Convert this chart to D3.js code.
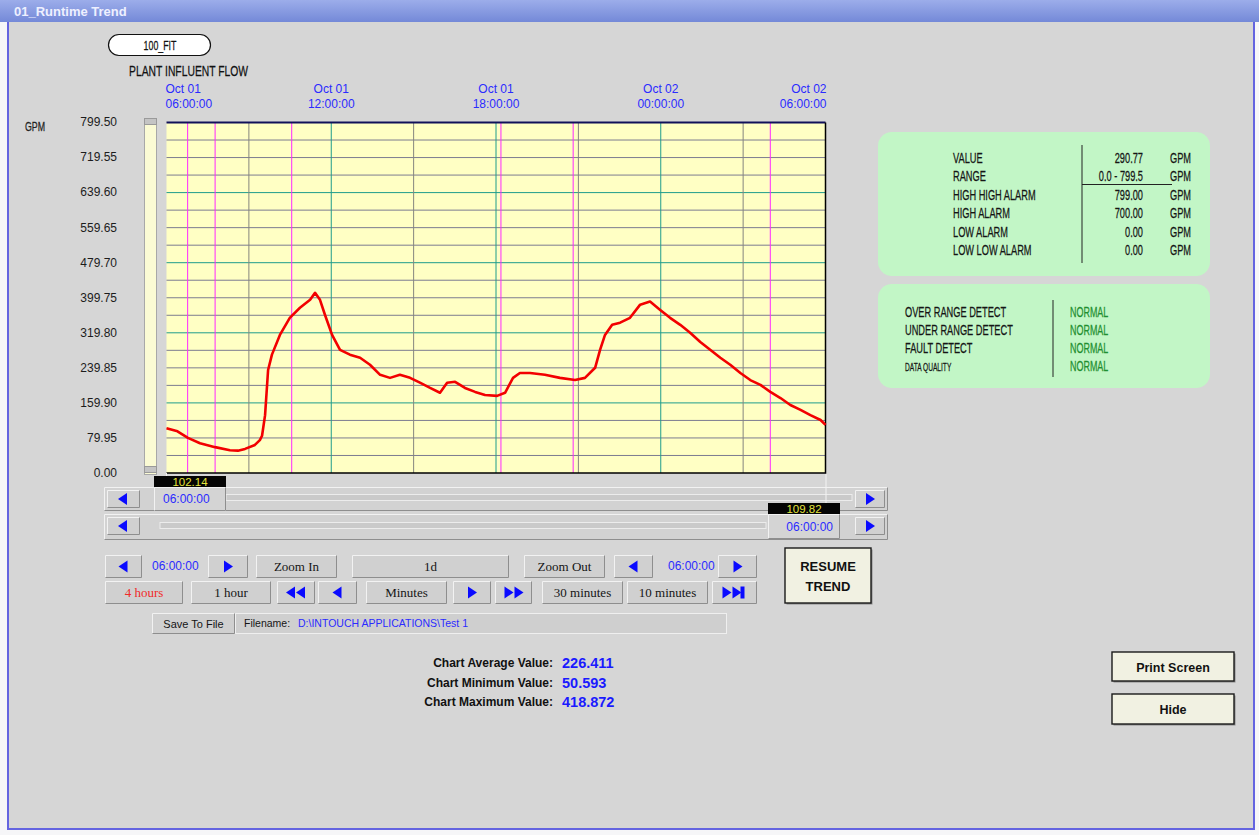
<!DOCTYPE html>
<html>
<head>
<meta charset="utf-8">
<script src="https://cdn.jsdelivr.net/npm/d3@7"></script>
<style>
  body { margin: 0; background: #ffffff; }
</style>
</head>
<body>
<div id="trend"></div>
<script>
var startTime = new Date(2009, 9, 1, 6, 0, 0);   // Oct 01 06:00:00
var spanHours = 24;
var hoursFromStart = [0.00, 0.40, 0.78, 1.22, 1.77, 2.31, 2.60, 2.86, 3.22, 3.40, 3.48, 3.59, 3.70, 3.84, 4.13,
  4.49, 4.86, 5.23, 5.41, 5.59, 5.77, 6.03, 6.32, 6.68, 7.05, 7.41, 7.78, 8.14, 8.50, 8.87, 9.23, 9.60, 9.96,
  10.22, 10.51, 10.87, 11.24, 11.60, 12.04, 12.33, 12.62, 12.87, 13.24, 13.78, 14.33, 14.88, 15.24, 15.61,
  15.79, 15.97, 16.23, 16.52, 16.88, 17.25, 17.61, 17.98, 18.34, 18.71, 19.07, 19.44, 19.80, 20.17, 20.53,
  20.90, 21.26, 21.63, 21.99, 22.36, 22.72, 23.09, 23.45, 23.82, 24.00];
var flowGpm = [102.14, 95, 80, 68, 59, 52, 51, 55, 64, 75, 85, 132, 235, 270, 315,
  354, 377, 395, 411, 395, 361, 315, 281, 270, 263, 247, 224, 217, 224, 217, 206, 194, 183,
  206, 208, 194, 185, 178, 176, 183, 217, 228, 228, 224, 217, 212, 217, 240,
  281, 315, 338, 343, 354, 384, 391, 372, 354, 338, 320, 299, 281, 263, 247,
  228, 212, 201, 185, 171, 155, 144, 132, 121, 109.82];

var yDomain = [0, 799.5];
var yTickValues = [0, 79.95, 159.9, 239.85, 319.8, 399.75, 479.7, 559.65, 639.6, 719.55, 799.5];
var yGridValues = [0, 39.975, 79.95, 119.925, 159.9, 199.875, 239.85, 279.825, 319.8, 359.775, 399.75,
  439.725, 479.7, 519.675, 559.65, 599.625, 639.6, 679.575, 719.55, 759.525];
var yMajorGrid = [159.9, 319.8, 479.7, 639.6];
var timeLabelHours = [0, 6, 12, 18, 24];
var majorGridHours = [6, 12, 18];
var minorGridHours = [3, 9, 15, 21];
var markerHours = [0.77, 1.77, 4.56, 12.18, 14.81, 21.99];

var chartStatLabels = ["Chart Average Value:", "Chart Minimum Value:", "Chart Maximum Value:"];
var chartStatValues = ["226.411", "50.593", "418.872"];
var alarmLabels = ["VALUE", "RANGE", "HIGH HIGH ALARM", "HIGH ALARM", "LOW ALARM", "LOW LOW ALARM"];
var alarmValues = ["290.77", "0.0 -  799.5", "799.00", "700.00", "0.00", "0.00"];
var statusLabels = ["OVER RANGE DETECT", "UNDER RANGE DETECT", "FAULT DETECT", "DATA QUALITY"];
var statusValues = ["NORMAL", "NORMAL", "NORMAL", "NORMAL"];

var width = 1259;
var height = 835;
var plot = { left: 166.5, right: 825.5, top: 122.5, bottom: 473 };
var blue = "#2b2bff";

var svg = d3.select("#trend").append("svg")
  .attr("width", width)
  .attr("height", height)
  .style("font-family", "Arial, 'Liberation Sans', sans-serif");

function hoursToDate(h) {
  return new Date(startTime.getTime() + h * 3600 * 1000);
}

var x = d3.scaleTime()
  .domain([startTime, hoursToDate(spanHours)])
  .range([plot.left, plot.right]);
var y = d3.scaleLinear()
  .domain(yDomain)
  .range([plot.bottom, plot.top]);

// narrow font look (Arial Narrow style)
function narrow(g, px, py, str, size, anchor, fill, sx) {
  return g.append("text")
    .attr("transform", "translate(" + px + "," + py + ") scale(" + (sx || 0.72) + ",1)")
    .attr("text-anchor", anchor || "start")
    .attr("font-size", size)
    .attr("fill", fill || "#151515")
    .attr("stroke", fill || "#151515")
    .attr("stroke-width", 0.25)
    .text(str);
}

function bevel(g, bx, by, w, h, fill) {
  var b = g.append("g").attr("transform", "translate(" + bx + "," + by + ")");
  b.append("rect").attr("width", w).attr("height", h).attr("fill", fill || "#d0d0d0");
  b.append("path").attr("d", "M0.5," + (h - 0.5) + "V0.5H" + (w - 0.5))
    .attr("fill", "none").attr("stroke", "#f2f2f2");
  b.append("path").attr("d", "M0.5," + (h - 0.5) + "H" + (w - 0.5) + "V0.5")
    .attr("fill", "none").attr("stroke", "#8e8e8e");
  return b;
}

function arrow(g, cx, cy, dir) {
  var d = dir == "left" ? "M" + (cx - 5) + "," + cy + "L" + (cx + 4) + "," + (cy - 6) + "V" + (cy + 6) + "Z"
    : "M" + (cx + 5) + "," + cy + "L" + (cx - 4) + "," + (cy - 6) + "V" + (cy + 6) + "Z";
  g.append("path").attr("d", d).attr("fill", "#0a0aff");
}

// ---- window frame ----
svg.append("rect").attr("width", width).attr("height", height).attr("fill", "#f6f6f8");
svg.append("rect")
  .attr("x", 8).attr("y", 20).attr("width", 1246).attr("height", 809)
  .attr("fill", "#d6d6d6")
  .attr("stroke", "#6464e0").attr("stroke-width", 2);
var grad = svg.append("defs").append("linearGradient")
  .attr("id", "titleGrad").attr("x1", 0).attr("y1", 0).attr("x2", 0).attr("y2", 1);
grad.append("stop").attr("offset", 0).attr("stop-color", "#9cadea");
grad.append("stop").attr("offset", 1).attr("stop-color", "#7489d8");
svg.append("rect").attr("width", width).attr("height", 22).attr("fill", "url(#titleGrad)");
svg.append("text")
  .attr("x", 14).attr("y", 16)
  .attr("font-size", 13).attr("font-weight", "bold")
  .attr("fill", "#eef0ff")
  .text("01_Runtime Trend");

// ---- tag header ----
svg.append("rect")
  .attr("x", 108.5).attr("y", 34.5).attr("width", 102).attr("height", 21).attr("rx", 10.5)
  .attr("fill", "#ffffff").attr("stroke", "#111").attr("stroke-width", 1.2);
narrow(svg, 160, 50, "100_FIT", 13, "middle", "#111", 0.68);
narrow(svg, 129, 75.5, "PLANT INFLUENT FLOW", 15, "start", "#111", 0.69);
narrow(svg, 25, 131, "GPM", 13, "start", "#222", 0.68);

// ---- trend plot ----
svg.append("rect")
  .attr("x", plot.left).attr("y", plot.top)
  .attr("width", plot.right - plot.left).attr("height", plot.bottom - plot.top)
  .attr("fill", "#ffffc4");

var grid = svg.append("g");
grid.selectAll(".hminor").data(yGridValues.filter(v => yMajorGrid.indexOf(v) < 0 && v > 0))
  .enter().append("line")
  .attr("x1", plot.left).attr("x2", plot.right)
  .attr("y1", d => y(d)).attr("y2", d => y(d))
  .attr("stroke", "#7c7c90").attr("stroke-width", 1);
grid.selectAll(".hmajor").data(yMajorGrid)
  .enter().append("line")
  .attr("x1", plot.left).attr("x2", plot.right)
  .attr("y1", d => y(d)).attr("y2", d => y(d))
  .attr("stroke", "#1e9c8c").attr("stroke-width", 1);
grid.selectAll(".vminor").data(minorGridHours)
  .enter().append("line")
  .attr("x1", d => x(hoursToDate(d))).attr("x2", d => x(hoursToDate(d)))
  .attr("y1", plot.top).attr("y2", plot.bottom)
  .attr("stroke", "#85857e").attr("stroke-width", 1);
grid.selectAll(".vmajor").data(majorGridHours)
  .enter().append("line")
  .attr("x1", d => x(hoursToDate(d))).attr("x2", d => x(hoursToDate(d)))
  .attr("y1", plot.top).attr("y2", plot.bottom)
  .attr("stroke", "#1e9c8c").attr("stroke-width", 1);
grid.selectAll(".marker").data(markerHours)
  .enter().append("line")
  .attr("x1", d => x(hoursToDate(d))).attr("x2", d => x(hoursToDate(d)))
  .attr("y1", plot.top).attr("y2", plot.bottom)
  .attr("stroke", "#ff28ff").attr("stroke-width", 1);

// plot border
svg.append("line").attr("x1", plot.left).attr("x2", plot.right).attr("y1", plot.top).attr("y2", plot.top)
  .attr("stroke", "#10105a").attr("stroke-width", 2);
svg.append("path")
  .attr("d", "M" + plot.left + "," + plot.bottom + "H" + plot.right + "V" + plot.top)
  .attr("fill", "none").attr("stroke", "#000").attr("stroke-width", 1.5);

// series
var line = d3.line()
  .x((d, i) => x(hoursToDate(hoursFromStart[i])))
  .y(d => y(d));
svg.append("path")
  .datum(flowGpm)
  .attr("d", line)
  .attr("fill", "none")
  .attr("stroke", "#f20000")
  .attr("stroke-width", 2.6)
  .attr("stroke-linejoin", "round");

// y labels
var yAxis = svg.append("g")
  .attr("transform", "translate(120,0)")
  .call(d3.axisLeft(y).tickValues(yTickValues).tickSize(0).tickPadding(3).tickFormat(d3.format(".2f")));
yAxis.select(".domain").remove();
yAxis.selectAll("text").attr("font-size", 12).attr("font-family", "Arial, 'Liberation Sans', sans-serif")
  .attr("fill", "#1c1c1c").attr("dy", "0.28em");

// time labels
var fmtDay = d3.timeFormat("%b %d");
var fmtTime = d3.timeFormat("%H:%M:%S");
var tl = svg.append("g").selectAll("g").data(timeLabelHours).enter().append("g");
function timeAnchor(d, i) { return i == 0 ? "start" : (i == timeLabelHours.length - 1 ? "end" : "middle"); }
function timeX(d, i) { return x(hoursToDate(d)) + (i == 0 ? -1 : (i == timeLabelHours.length - 1 ? 1 : 0)); }
tl.append("text").attr("x", timeX).attr("y", 93).attr("text-anchor", timeAnchor)
  .attr("font-size", 12).attr("fill", blue).text(d => fmtDay(hoursToDate(d)));
tl.append("text").attr("x", timeX).attr("y", 108).attr("text-anchor", timeAnchor)
  .attr("font-size", 12).attr("fill", blue).text(d => fmtTime(hoursToDate(d)));

// vertical range slider at left of plot
svg.append("rect").attr("x", 144.5).attr("y", 118.5).attr("width", 12).attr("height", 356)
  .attr("fill", "#fbfbd4").attr("stroke", "#a8a8a8");
svg.append("rect").attr("x", 144.5).attr("y", 118.5).attr("width", 12).attr("height", 6)
  .attr("fill", "#c4c4c4").attr("stroke", "#9a9a9a");
svg.append("rect").attr("x", 144.5).attr("y", 466.5).attr("width", 12).attr("height", 6)
  .attr("fill", "#c4c4c4").attr("stroke", "#9a9a9a");

// ---- scroll rows with cursors ----
var fmtVal = d3.format(".2f");
var rows = svg.append("g");
bevel(rows, 104, 487, 784, 24, "#d2d2d2");
bevel(rows, 104, 514, 784, 26, "#d2d2d2");
rows.append("rect").attr("x", 226).attr("y", 494.5).attr("width", 626).attr("height", 6)
  .attr("fill", "#cacaca").attr("stroke", "#ececec");
rows.append("rect").attr("x", 160).attr("y", 522.5).attr("width", 606).attr("height", 6)
  .attr("fill", "#cacaca").attr("stroke", "#ececec");
[[107, 490], [107, 517]].forEach(p => {
  var b = bevel(rows, p[0], p[1], 33, 18);
  arrow(b, 16, 9, "left");
});
[[855, 490], [855, 517]].forEach(p => {
  var b = bevel(rows, p[0], p[1], 30, 18);
  arrow(b, 15, 9, "right");
});
// cursor lines
rows.append("line").attr("x1", x(startTime)).attr("x2", x(startTime)).attr("y1", plot.bottom).attr("y2", 476)
  .attr("stroke", "#f4f4f4");
rows.append("line").attr("x1", x(hoursToDate(spanHours)) + 0.5).attr("x2", x(hoursToDate(spanHours)) + 0.5)
  .attr("y1", plot.bottom + 1).attr("y2", 503).attr("stroke", "#f4f4f4");
// left cursor box
rows.append("rect").attr("x", 154).attr("y", 476).attr("width", 72).attr("height", 11).attr("fill", "#050505");
rows.append("text").attr("x", 190).attr("y", 485.5).attr("text-anchor", "middle").attr("font-size", 11.5)
  .attr("fill", "#e4e43c").text(fmtVal(flowGpm[0]));
bevel(rows, 154, 487, 72, 24, "#d4d4d4");
rows.append("text").attr("x", 163).attr("y", 503).attr("font-size", 12).attr("fill", blue)
  .text(fmtTime(startTime));
// right cursor box
rows.append("rect").attr("x", 768).attr("y", 503).attr("width", 72).attr("height", 11).attr("fill", "#050505");
rows.append("text").attr("x", 804).attr("y", 512.5).attr("text-anchor", "middle").attr("font-size", 11.5)
  .attr("fill", "#e4e43c").text(fmtVal(flowGpm[flowGpm.length - 1]));
bevel(rows, 768, 514, 72, 25, "#d4d4d4");
rows.append("text").attr("x", 833).attr("y", 531).attr("text-anchor", "end").attr("font-size", 12)
  .attr("fill", blue).text(fmtTime(hoursToDate(spanHours)));

// ---- control buttons ----
var ctrl = svg.append("g");
var serif = "'Liberation Serif', 'Times New Roman', serif";
function labelButton(bx, by, w, label, color) {
  var b = bevel(ctrl, bx, by, w, 23);
  b.append("text").attr("x", w / 2).attr("y", 16).attr("text-anchor", "middle")
    .attr("font-family", serif).attr("font-size", 13).attr("fill", color || "#151515").text(label);
  return b;
}
function iconButton(bx, by, w, kind) {
  var b = bevel(ctrl, bx, by, w, 23);
  var c = w / 2;
  if (kind == "left" || kind == "right") arrow(b, c, 11.5, kind);
  if (kind == "dleft") { arrow(b, c - 5, 11.5, "left"); arrow(b, c + 5, 11.5, "left"); }
  if (kind == "dright") { arrow(b, c - 5, 11.5, "right"); arrow(b, c + 5, 11.5, "right"); }
  if (kind == "end") {
    arrow(b, c - 8, 11.5, "right");
    arrow(b, c + 2, 11.5, "right");
    b.append("rect").attr("x", c + 6).attr("y", 5.5).attr("width", 4).attr("height", 12).attr("fill", "#0a0aff");
  }
  return b;
}
iconButton(105, 555, 37, "left");
ctrl.append("text").attr("x", 152).attr("y", 570).attr("font-size", 12).attr("fill", blue).text(fmtTime(startTime));
iconButton(208, 555, 40, "right");
labelButton(256, 555, 81, "Zoom In");
labelButton(352, 555, 157, "1d");
labelButton(524, 555, 81, "Zoom Out");
iconButton(614, 555, 39, "left");
ctrl.append("text").attr("x", 668).attr("y", 570).attr("font-size", 12).attr("fill", blue)
  .text(fmtTime(hoursToDate(spanHours)));
iconButton(718, 555, 39, "right");

labelButton(105, 581, 78, "4 hours", "#f02a2a");
labelButton(191, 581, 80, "1 hour");
iconButton(277, 581, 38, "dleft");
iconButton(318, 581, 39, "left");
labelButton(366, 581, 81, "Minutes");
iconButton(453, 581, 38, "right");
iconButton(495, 581, 37, "dright");
labelButton(542, 581, 81, "30 minutes");
labelButton(627, 581, 81, "10 minutes");
iconButton(712, 581, 45, "end");

// save row
var sv = bevel(ctrl, 152, 613, 83, 21);
sv.append("text").attr("x", 41.5).attr("y", 15).attr("text-anchor", "middle").attr("font-size", 11)
  .attr("fill", "#151515").text("Save To File");
ctrl.append("rect").attr("x", 235.5).attr("y", 613.5).attr("width", 491).attr("height", 20)
  .attr("fill", "#cfcfcf").attr("stroke", "#efefef");
ctrl.append("text").attr("x", 244).attr("y", 627).attr("font-size", 10.5).attr("fill", "#151515").text("Filename:");
ctrl.append("text").attr("x", 298).attr("y", 627).attr("font-size", 10.5).attr("fill", blue)
  .text("D:\\INTOUCH APPLICATIONS\\Test 1");

// raised cream buttons
function creamButton(bx, by, w, h, lines, size) {
  var b = ctrl.append("g").attr("transform", "translate(" + bx + "," + by + ")");
  b.append("rect").attr("x", 1.5).attr("y", 1.5).attr("width", w).attr("height", h).attr("fill", "#8a8a8a");
  b.append("rect").attr("width", w).attr("height", h).attr("fill", "#f1f1e2")
    .attr("stroke", "#1a1a1a").attr("stroke-width", 1.4);
  lines.forEach((t, i) => {
    b.append("text").attr("x", w / 2).attr("y", h / 2 + 5 + (i - (lines.length - 1) / 2) * 20)
      .attr("text-anchor", "middle").attr("font-size", size).attr("font-weight", "bold")
      .attr("fill", "#111").text(t);
  });
}
creamButton(785, 548, 86, 55, ["RESUME", "TREND"], 13);
creamButton(1112, 652, 122, 29, ["Print Screen"], 12.5);
creamButton(1112, 694, 122, 30, ["Hide"], 12.5);

// ---- chart statistics ----
var stats = svg.append("g");
chartStatLabels.forEach((t, i) => {
  stats.append("text").attr("x", 553).attr("y", 667 + i * 19.5).attr("text-anchor", "end")
    .attr("font-size", 12).attr("font-weight", "bold").attr("fill", "#111").text(t);
  stats.append("text").attr("x", 562).attr("y", 668 + i * 19.5)
    .attr("font-size", 14.5).attr("font-weight", "bold").attr("fill", "#1a1aff").text(chartStatValues[i]);
});

// ---- alarm panels ----
var panels = svg.append("g");
panels.append("rect").attr("x", 878).attr("y", 132).attr("width", 332).attr("height", 144).attr("rx", 14)
  .attr("fill", "#c2f6c6");
panels.append("rect").attr("x", 878).attr("y", 284).attr("width", 332).attr("height", 104).attr("rx", 14)
  .attr("fill", "#c2f6c6");
alarmLabels.forEach((t, i) => {
  var ty = 163 + i * 18.4;
  narrow(panels, 953, ty, t, 14, "start", "#151515", 0.66);
  narrow(panels, 1143, ty, alarmValues[i], 14, "end", "#151515", 0.66);
  narrow(panels, 1170, ty, "GPM", 14, "start", "#151515", 0.66);
});
panels.append("line").attr("x1", 1082).attr("x2", 1082).attr("y1", 145).attr("y2", 263).attr("stroke", "#222");
panels.append("line").attr("x1", 1082).attr("x2", 1172).attr("y1", 184.5).attr("y2", 184.5).attr("stroke", "#222");
statusLabels.forEach((t, i) => {
  var ty = 317 + i * 18;
  if (i == statusLabels.length - 1) narrow(panels, 905, ty, t, 11, "start", "#151515", 0.6);
  else narrow(panels, 905, ty, t, 14, "start", "#151515", 0.66);
  narrow(panels, 1070, ty, statusValues[i], 14, "start", "#1f8f30", 0.64);
});
panels.append("line").attr("x1", 1053).attr("x2", 1053).attr("y1", 300).attr("y2", 377).attr("stroke", "#222");
</script>
</body>
</html>
